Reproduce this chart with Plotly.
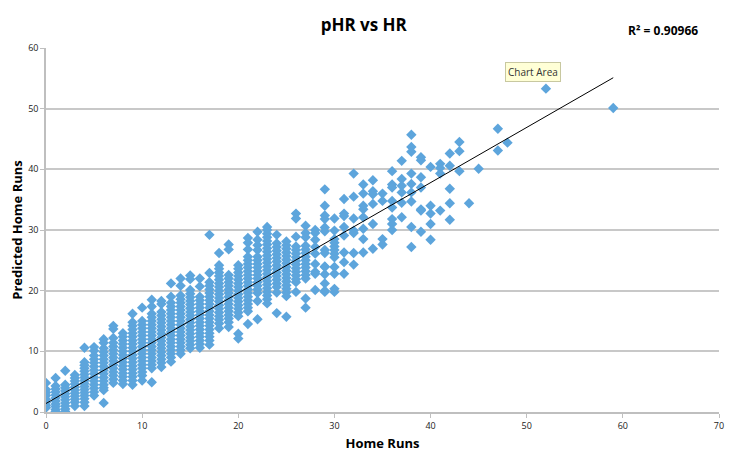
import plotly.graph_objects as go

# Home runs (x) and the predicted home runs seen at each of them
hr_values = [0, 1, 2, 3, 4, 5, 6, 7, 8, 9, 10, 11, 12, 13, 14, 15, 16, 17, 18, 19,
             20, 21, 22, 23, 24, 25, 26, 27, 28, 29, 30, 31, 32, 33, 34, 35, 36, 37,
             38, 39, 40, 41, 42, 43, 44, 45, 47, 48, 52, 59]

phr_columns = [
    [4.8, 3.7, 3.2, 2.7, 2.1, 1.6, 1.1, 0.7],
    [5.6, 4.3, 3.8, 3.3, 2.8, 2.3, 1.8, 1.3, 0.9, 0.4, 0.1],
    [6.8, 4.5, 4.0, 3.5, 3.0, 2.5, 2.0, 1.5, 1.0, 0.5, 0.1],
    [6.1, 5.6, 5.1, 4.6, 4.1, 3.6, 3.1, 2.6, 2.1, 1.6, 1.0],
    [10.6, 8.2, 7.7, 7.2, 6.7, 6.2, 5.7, 5.2, 4.7, 4.2, 3.7, 3.2, 2.7, 2.2, 1.6, 1.0],
    [10.7, 10.1, 9.3, 8.7, 8.1, 7.5, 6.9, 6.3, 5.7, 5.1, 4.5, 3.9, 3.3, 2.7],
    [12.0, 11.4, 10.5, 9.9, 9.3, 8.7, 8.1, 7.5, 6.9, 6.3, 5.7, 5.1, 4.5, 4.0, 3.6, 1.5],
    [14.2, 13.7, 12.2, 11.4, 10.8, 10.2, 9.6, 9.0, 8.4, 7.8, 7.2, 6.6, 6.0, 5.4, 4.8],
    [13.0, 12.4, 11.8, 11.2, 10.6, 10.0, 9.4, 8.8, 8.2, 7.6, 7.0, 6.4, 5.8, 5.2, 4.6],
    [16.2, 14.8, 14.2, 13.6, 13.0, 12.4, 11.8, 11.2, 10.6, 10.0, 9.4, 8.8, 8.2, 7.6,
     7.0, 6.4, 5.8, 5.2, 4.5],
    [17.2, 15.0, 14.4, 13.8, 13.2, 12.6, 12.0, 11.4, 10.8, 10.2, 9.6, 9.0, 8.4, 7.8,
     7.2, 6.6, 6.0, 5.2],
    [18.5, 17.4, 16.2, 15.6, 15.0, 14.4, 13.8, 13.2, 12.6, 12.0, 11.4, 10.8, 10.2,
     9.6, 9.0, 8.4, 7.8, 7.2, 4.9],
    [18.3, 17.8, 16.5, 15.9, 15.3, 14.7, 14.1, 13.5, 12.9, 12.3, 11.7, 11.1, 10.5,
     9.9, 9.3, 8.7, 8.1, 7.4],
    [21.2, 19.0, 18.0, 17.4, 16.8, 16.2, 15.6, 15.0, 14.4, 13.8, 13.2, 12.6, 12.0,
     11.4, 10.8, 10.2, 9.6, 9.0, 8.3],
    [22.0, 20.8, 19.2, 18.6, 18.0, 17.4, 16.8, 16.2, 15.6, 15.0, 14.4, 13.8, 13.2,
     12.6, 12.0, 11.4, 10.8, 10.2, 9.6],
    [22.5, 21.9, 20.1, 19.5, 18.9, 18.3, 17.7, 17.1, 16.5, 15.9, 15.3, 14.7, 14.1,
     13.5, 12.9, 12.3, 11.7, 11.1, 10.5],
    [22.0, 20.7, 19.0, 18.4, 17.8, 17.2, 16.6, 16.0, 15.4, 14.8, 14.2, 13.6, 13.0,
     12.4, 11.8, 11.2, 10.6],
    [29.2, 22.9, 21.4, 20.8, 20.2, 19.6, 19.0, 18.4, 17.8, 17.2, 16.6, 16.0, 15.4,
     14.8, 14.2, 13.6, 13.0, 12.4, 11.8, 11.1],
    [26.2, 24.2, 23.6, 23.0, 22.4, 21.8, 21.2, 20.6, 20.0, 19.4, 18.8, 18.2, 17.6,
     17.0, 16.4, 15.8, 15.2, 14.6, 13.8],
    [27.6, 26.8, 22.6, 22.0, 21.4, 20.8, 20.2, 19.6, 19.0, 18.4, 17.8, 17.2, 16.6,
     16.0, 15.4, 14.8, 14.0],
    [24.2, 23.6, 23.0, 22.4, 21.8, 21.2, 20.6, 20.0, 19.4, 18.8, 18.2, 17.6, 17.0,
     16.4, 15.8, 12.9, 12.1],
    [28.7, 27.9, 26.8, 25.6, 25.0, 24.4, 23.8, 23.2, 22.6, 22.0, 21.4, 20.8, 20.2,
     19.6, 19.0, 18.4, 17.8, 17.2, 16.6, 14.5],
    [29.7, 28.4, 27.5, 26.7, 25.6, 25.0, 24.4, 23.8, 23.2, 22.6, 22.0, 21.4, 20.8,
     20.2, 19.6, 18.3, 15.3],
    [30.5, 30.0, 29.4, 28.8, 28.2, 27.6, 27.0, 26.4, 25.8, 25.2, 24.6, 24.0, 23.4,
     22.8, 22.2, 21.6, 21.0, 20.4, 19.8, 19.2, 18.6, 17.9],
    [29.2, 27.8, 27.2, 26.6, 26.0, 25.4, 24.8, 24.2, 23.6, 23.0, 22.4, 21.8, 21.2,
     20.6, 19.7, 16.3],
    [28.1, 27.5, 26.9, 26.3, 25.7, 25.1, 24.5, 23.9, 23.3, 22.7, 22.1, 21.5, 20.9,
     20.3, 19.7, 19.1, 15.7],
    [32.7, 31.9, 28.9, 27.3, 26.7, 26.1, 25.5, 24.9, 24.3, 23.7, 23.1, 22.5, 21.9,
     21.4, 19.8],
    [30.7, 29.5, 28.8, 27.4, 26.8, 26.2, 25.6, 25.0, 24.4, 23.8, 23.2, 22.6, 22.0,
     18.7, 17.2],
    [30.0, 29.5, 28.4, 27.2, 26.1, 24.4, 23.1, 22.8, 20.1],
    [36.7, 34.0, 32.4, 31.8, 30.4, 29.8, 26.7, 26.2, 24.0, 23.9, 22.7, 21.2, 20.0, 19.8],
    [31.9, 29.9, 28.5, 27.9, 27.3, 26.7, 26.1, 25.5, 23.9, 22.8, 20.3, 19.8],
    [35.1, 32.7, 32.3, 30.5, 29.1, 26.3, 24.7, 22.8],
    [39.3, 35.5, 31.9, 29.9, 29.5, 26.2, 24.3],
    [37.5, 36.0, 34.0, 33.4, 32.1, 30.2, 28.5, 26.3],
    [38.2, 36.4, 35.9, 34.3, 31.0, 26.9],
    [36.0, 34.8, 28.5, 27.6],
    [39.7, 37.5, 37.0, 34.8, 33.7, 31.8, 31.0, 30.0],
    [41.4, 38.4, 37.3, 36.2, 34.5, 32.1],
    [45.7, 43.7, 42.9, 39.3, 37.6, 36.2, 34.7, 30.5, 27.2],
    [42.0, 41.5, 38.7, 37.0, 33.4, 33.2, 29.7],
    [40.4, 34.0, 32.7, 31.0, 28.4],
    [40.9, 40.2, 39.3, 33.2],
    [42.6, 40.6, 36.8, 34.4, 31.7],
    [44.5, 43.0, 39.7],
    [34.4],
    [40.1],
    [46.7, 43.1],
    [44.4],
    [53.3],
    [50.1],
]

# linear trendline ends
trend_hr = [0, 59]
trend_phr = [1.4, 55.1]

r_squared = "0.90966"

hr = []
phr = []
for h, col in zip(hr_values, phr_columns):
    for p in col:
        hr.append(h)
        phr.append(p)

fig = go.Figure()
fig.add_trace(go.Scatter(
    x=hr, y=phr, mode="markers",
    marker=dict(symbol="diamond", size=8, color="#5DA5DC", line=dict(width=0)),
    showlegend=False,
))
fig.add_trace(go.Scatter(
    x=trend_hr, y=trend_phr, mode="lines",
    line=dict(color="black", width=1),
    showlegend=False,
))

# the page body has an 8px margin, so the figure is a bit smaller than the window
fig.update_layout(
    width=726, height=457,
    margin=dict(l=38, r=15, t=40, b=53),
    paper_bgcolor="white", plot_bgcolor="white",
    font=dict(family="Open Sans", color="#222"),
    title=dict(text="<b>pHR vs HR</b>", x=0.49, xanchor="center", y=0.962, yanchor="middle",
               font=dict(size=17, color="black")),
    xaxis=dict(
        range=[0, 70], dtick=10, showgrid=False, zeroline=False, automargin=False,
        showline=True, linecolor="#bfbfbf", linewidth=1.5,
        ticks="outside", ticklen=4, tickcolor="#bfbfbf",
        tickfont=dict(size=9),
        title=dict(text="<b>Home Runs</b>", font=dict(size=13, color="black"), standoff=8),
    ),
    yaxis=dict(
        range=[0, 60], dtick=10, showgrid=True, gridcolor="#c8c8c8", gridwidth=1.5,
        zeroline=False, automargin=False, showline=True, linecolor="#bfbfbf", linewidth=1.5,
        ticks="outside", ticklen=4, tickcolor="#bfbfbf",
        tickfont=dict(size=9),
        title=dict(text="<b>Predicted Home Runs</b>", font=dict(size=13, color="black"),
                   standoff=4),
    ),
    annotations=[
        dict(text="<b>R² = " + r_squared + "</b>", xref="paper", yref="paper",
             x=0.972, y=1.047, xanchor="right", yanchor="middle", showarrow=False,
             font=dict(size=12, color="black")),
        dict(text="Chart Area", xref="paper", yref="paper",
             x=0.724, y=0.933, xanchor="center", yanchor="middle", showarrow=False,
             bgcolor="#ffffd6", bordercolor="#c8c8a0", borderwidth=1, borderpad=2,
             font=dict(size=10, color="#333")),
    ],
)

fig.write_html("out.html")
